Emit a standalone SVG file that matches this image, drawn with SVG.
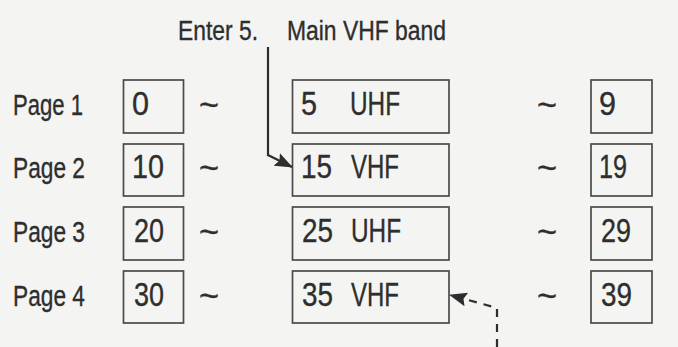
<svg xmlns="http://www.w3.org/2000/svg" width="678" height="347" viewBox="0 0 678 347">
<style>
.bg{fill:#f4f4f2}
.box{fill:none;stroke:#4a4a4a;stroke-width:1.7}
.t{font-family:"Liberation Sans Narrow","Liberation Sans",Arial,sans-serif;fill:#2e2e2e;stroke:#2e2e2e;stroke-width:0.35}
.lbl{font-size:29px}
.num{font-size:34px}
.ttl{font-size:27px}
.tl{font-size:34px}
.con{fill:none;stroke:#2e2e2e;stroke-width:2.2}
.dash{stroke-dasharray:8 7}
</style>
<defs>
<marker id="ah2" viewBox="0 0 18 14" refX="17" refY="7" markerWidth="18" markerHeight="14" markerUnits="userSpaceOnUse" orient="auto">
<path d="M0 0 L18 7 L0 14 L3 7 Z" fill="#2e2e2e"/>
</marker>
</defs>
<rect class="bg" x="0" y="0" width="678" height="347"/>

<g id="title">
<text class="t ttl" x="178" y="40" textLength="80" lengthAdjust="spacingAndGlyphs">Enter 5.</text>
<text class="t ttl" x="287" y="40" textLength="159" lengthAdjust="spacingAndGlyphs">Main VHF band</text>
</g>

<g id="page1">
<text class="t lbl" x="13" y="115" textLength="70" lengthAdjust="spacingAndGlyphs">Page 1</text>
<rect class="box" x="123.5" y="80" width="60" height="53"/>
<text class="t num" x="132" y="115" textLength="17" lengthAdjust="spacingAndGlyphs">0</text>
<text class="t tl" x="199" y="116" textLength="20" lengthAdjust="spacingAndGlyphs">~</text>
<rect class="box" x="292.5" y="80" width="156.5" height="53"/>
<text class="t num" x="301" y="115" textLength="16" lengthAdjust="spacingAndGlyphs">5</text>
<text class="t num" x="350" y="115" textLength="50" lengthAdjust="spacingAndGlyphs">UHF</text>
<text class="t tl" x="537" y="116" textLength="20" lengthAdjust="spacingAndGlyphs">~</text>
<rect class="box" x="591" y="80" width="61" height="53"/>
<text class="t num" x="599" y="115" textLength="17" lengthAdjust="spacingAndGlyphs">9</text>
</g>

<g id="page2">
<text class="t lbl" x="13" y="178" textLength="72" lengthAdjust="spacingAndGlyphs">Page 2</text>
<rect class="box" x="123.5" y="144" width="60" height="52"/>
<text class="t num" x="132" y="178" textLength="32" lengthAdjust="spacingAndGlyphs">10</text>
<text class="t tl" x="199" y="179" textLength="20" lengthAdjust="spacingAndGlyphs">~</text>
<rect class="box" x="292.5" y="144" width="156.5" height="52"/>
<text class="t num" x="301" y="178" textLength="31" lengthAdjust="spacingAndGlyphs">15</text>
<text class="t num" x="351" y="178" textLength="48" lengthAdjust="spacingAndGlyphs">VHF</text>
<text class="t tl" x="537" y="179" textLength="20" lengthAdjust="spacingAndGlyphs">~</text>
<rect class="box" x="591" y="144" width="61" height="52"/>
<text class="t num" x="599" y="178" textLength="28" lengthAdjust="spacingAndGlyphs">19</text>
</g>

<g id="page3">
<text class="t lbl" x="13" y="242" textLength="72" lengthAdjust="spacingAndGlyphs">Page 3</text>
<rect class="box" x="123.5" y="207" width="60" height="53"/>
<text class="t num" x="134" y="242" textLength="30" lengthAdjust="spacingAndGlyphs">20</text>
<text class="t tl" x="199" y="243" textLength="20" lengthAdjust="spacingAndGlyphs">~</text>
<rect class="box" x="292.5" y="207" width="156.5" height="53"/>
<text class="t num" x="302" y="242" textLength="31" lengthAdjust="spacingAndGlyphs">25</text>
<text class="t num" x="351" y="242" textLength="50" lengthAdjust="spacingAndGlyphs">UHF</text>
<text class="t tl" x="537" y="243" textLength="20" lengthAdjust="spacingAndGlyphs">~</text>
<rect class="box" x="591" y="207" width="61" height="53"/>
<text class="t num" x="601" y="242" textLength="30" lengthAdjust="spacingAndGlyphs">29</text>
</g>

<g id="page4">
<text class="t lbl" x="13" y="306" textLength="72" lengthAdjust="spacingAndGlyphs">Page 4</text>
<rect class="box" x="123.5" y="271" width="60" height="52"/>
<text class="t num" x="134" y="306" textLength="30" lengthAdjust="spacingAndGlyphs">30</text>
<text class="t tl" x="199" y="307" textLength="20" lengthAdjust="spacingAndGlyphs">~</text>
<rect class="box" x="292.5" y="271" width="156.5" height="52"/>
<text class="t num" x="302" y="306" textLength="31" lengthAdjust="spacingAndGlyphs">35</text>
<text class="t num" x="351" y="306" textLength="48" lengthAdjust="spacingAndGlyphs">VHF</text>
<text class="t tl" x="537" y="307" textLength="20" lengthAdjust="spacingAndGlyphs">~</text>
<rect class="box" x="591" y="271" width="61" height="52"/>
<text class="t num" x="601" y="306" textLength="31" lengthAdjust="spacingAndGlyphs">39</text>
</g>

<g id="connectors">
<path class="con" d="M268 47 V155 L292 167" marker-end="url(#ah2)"/>
<path class="con dash" d="M497 347 V308 L450 295" marker-end="url(#ah2)"/>
</g>
</svg>
